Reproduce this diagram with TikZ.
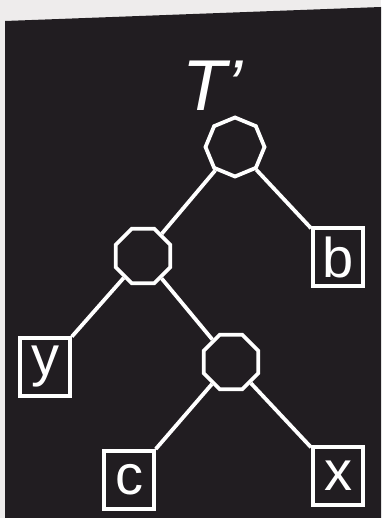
\documentclass[tikz,border=0pt]{standalone}
\usepackage{fontspec}
\setmainfont{Liberation Sans}
\usetikzlibrary{shapes.geometric}
\definecolor{bg}{RGB}{33,29,33}
\definecolor{paper}{RGB}{238,236,236}
\begin{document}
\begin{tikzpicture}[x=1pt,y=-1pt,
  oct/.style={regular polygon, regular polygon sides=8, draw=white, line width=3.8pt, minimum size=59pt, inner sep=0pt},
  leaf/.style={rectangle, draw=white, line width=3.8pt, minimum width=50pt, minimum height=58pt, inner sep=0pt, text=white, font=\fontsize{56}{56}\selectfont},
  edge/.style={draw=white, line width=3.8pt}]
\useasboundingbox (0,0) rectangle (381,518);
\fill[paper] (0,0) rectangle (381,518);
\fill[bg] (5,21) -- (381,7) -- (381,518) -- (5,518) -- cycle;
\node[text=white, font=\fontsize{72}{72}\itshape] (title) at (212,86) {T’};
\node[oct, shape border rotate=22.5] (root) at (235,147) {};
\node[oct] (l) at (143,256) {};
\node[oct] (m) at (231,362) {};
\node[leaf] (b) at (338,257) {b};
\node[leaf] (y) at (45,367) {y};
\node[leaf] (c) at (129,480) {c};
\node[leaf] (x) at (338,476) {x};
\draw[edge] (root) -- (l);
\draw[edge] (root) -- (b);
\draw[edge] (l) -- (y);
\draw[edge] (l) -- (m);
\draw[edge] (m) -- (c);
\draw[edge] (m) -- (x);
\end{tikzpicture}
\end{document}
